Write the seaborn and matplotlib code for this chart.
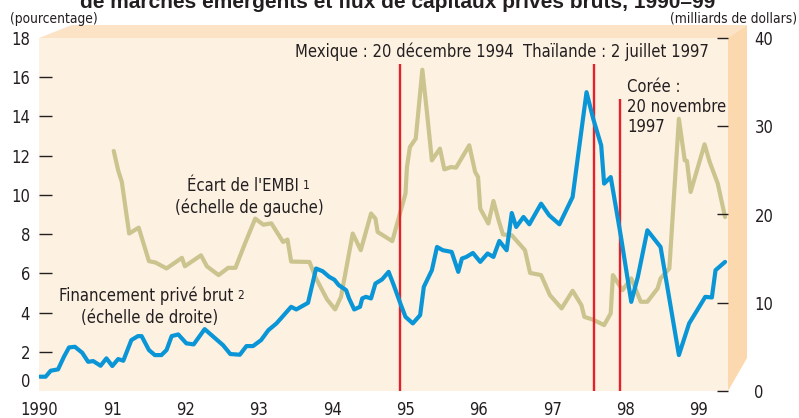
import matplotlib
matplotlib.use("Agg")
import matplotlib.pyplot as plt
import matplotlib.font_manager as fm
import seaborn as sns
import pandas as pd
from matplotlib.patches import Polygon

# ---------------- data ----------------
flow_dates = [1990.01, 1990.09, 1990.16, 1990.26, 1990.34, 1990.41, 1990.49, 1990.59, 1990.67, 1990.74,
              1990.84, 1990.92, 1991.00, 1991.08, 1991.15, 1991.26, 1991.35, 1991.40, 1991.50, 1991.58,
              1991.67, 1991.74, 1991.81, 1991.90, 1992.01, 1992.11, 1992.26, 1992.38, 1992.51, 1992.61,
              1992.74, 1992.83, 1992.92, 1993.03, 1993.13, 1993.24, 1993.30, 1993.44, 1993.51, 1993.67,
              1993.78, 1993.87, 1993.96, 1994.03, 1994.09, 1994.19, 1994.23, 1994.30, 1994.38, 1994.41,
              1994.46, 1994.53, 1994.59, 1994.68, 1994.77, 1994.84, 1994.93, 1995.00, 1995.10, 1995.20,
              1995.25, 1995.36, 1995.43, 1995.51, 1995.63, 1995.72, 1995.77, 1995.83, 1995.92, 1996.02,
              1996.12, 1996.20, 1996.28, 1996.38, 1996.45, 1996.51, 1996.61, 1996.69, 1996.85, 1996.96,
              1997.10, 1997.28, 1997.37, 1997.47, 1997.56, 1997.67, 1997.71, 1997.80, 1997.94, 1998.08,
              1998.17, 1998.30, 1998.48, 1998.73, 1998.87, 1998.98, 1999.09, 1999.18, 1999.23, 1999.36]
flow_values = [1.62, 1.62, 2.30, 2.45, 3.88, 4.94, 5.01, 4.33, 3.31, 3.39,
               2.86, 3.70, 2.83, 3.62, 3.43, 5.77, 6.22, 6.22, 4.64, 4.07,
               4.07, 4.64, 6.22, 6.41, 5.40, 5.28, 7.01, 6.14, 5.20, 4.19,
               4.11, 5.09, 5.09, 5.77, 6.90, 7.66, 8.22, 9.54, 9.24, 9.99,
               13.88, 13.57, 12.93, 12.61, 11.99, 11.43, 10.49, 9.24, 9.54, 10.49,
               10.67, 10.49, 12.18, 12.64, 13.50, 11.99, 9.92, 8.40, 7.66, 8.60,
               11.80, 13.69, 16.32, 15.95, 15.76, 13.50, 15.01, 15.19, 15.64, 14.63,
               15.58, 15.19, 17.00, 15.95, 20.17, 18.59, 19.72, 18.89, 21.23, 19.91,
               18.89, 21.98, 27.64, 33.86, 30.88, 27.83, 23.50, 24.24, 17.45, 10.10,
               12.93, 18.21, 16.32, 4.07, 7.66, 9.16, 10.67, 10.60, 13.69, 14.63]

embi_dates = [1991.02, 1991.08, 1991.13, 1991.23, 1991.36, 1991.50, 1991.59, 1991.74, 1991.95, 1991.99,
              1992.21, 1992.29, 1992.45, 1992.58, 1992.68, 1992.81, 1992.95, 1993.06, 1993.17, 1993.33,
              1993.39, 1993.44, 1993.69, 1993.78, 1993.93, 1994.04, 1994.12, 1994.28, 1994.39, 1994.53,
              1994.59, 1994.62, 1994.82, 1995.00, 1995.02, 1995.06, 1995.14, 1995.23, 1995.29, 1995.36,
              1995.47, 1995.53, 1995.62, 1995.69, 1995.87, 1995.95, 1995.99, 1996.02, 1996.13, 1996.20,
              1996.27, 1996.33, 1996.45, 1996.63, 1996.70, 1996.85, 1996.97, 1997.13, 1997.28, 1997.40,
              1997.44, 1997.55, 1997.71, 1997.80, 1997.83, 1997.96, 1998.08, 1998.21, 1998.30, 1998.44,
              1998.48, 1998.60, 1998.73, 1998.81, 1998.84, 1998.89, 1999.08, 1999.15, 1999.26, 1999.36]
embi_values = [12.24, 11.25, 10.66, 8.03, 8.33, 6.62, 6.55, 6.25, 6.79, 6.36,
               6.92, 6.36, 5.91, 6.28, 6.28, 7.52, 8.79, 8.48, 8.55, 7.60,
               7.72, 6.60, 6.58, 5.74, 4.67, 4.16, 4.80, 8.03, 7.18, 9.05,
               8.79, 8.11, 7.64, 10.07, 11.42, 12.44, 12.87, 16.38, 14.31, 11.76,
               12.36, 11.30, 11.42, 11.39, 12.53, 11.17, 10.91, 9.30, 8.54, 9.69,
               8.71, 7.98, 7.94, 7.18, 6.02, 5.91, 4.89, 4.21, 5.11, 4.38,
               3.78, 3.65, 3.36, 3.96, 5.91, 5.14, 5.74, 4.55, 4.55, 5.23,
               5.74, 6.25, 13.88, 11.76, 11.73, 10.15, 12.58, 11.68, 10.58, 8.87]

event_labels = ["Mexique : 20 décembre 1994", "Thaïlande : 2 juillet 1997", "Corée :\n20 novembre\n1997"]
event_dates = [1994.93, 1997.57, 1997.92]
event_tops = [16.67, 16.67, 14.87]

year_ticks = list(range(1990, 2000))
year_labels = ["1990", "91", "92", "93", "94", "95", "96", "97", "98", "99"]
left_ticks = [0, 2, 4, 6, 8, 10, 12, 14, 16, 18]
right_ticks = [0, 10, 20, 30, 40]

title_text = "de marchés émergents et flux de capitaux privés bruts, 1990–99"

# ---------------- style ----------------
sns.set_style("white")

# choose a condensed face if one is installed
names = {f.name for f in fm.fontManager.ttflist}
cond_dejavu = any(f.name == "DejaVu Sans" and "Condensed" in f.fname for f in fm.fontManager.ttflist)
if "Liberation Sans Narrow" in names:
    FAM = ["Liberation Sans Narrow", "DejaVu Sans"]
    STRETCH = "normal"
    SCALE = 0.98
elif cond_dejavu:
    FAM = ["DejaVu Sans", "Liberation Sans"]
    STRETCH = "condensed"
    SCALE = 0.85
else:
    FAM = ["Liberation Sans", "DejaVu Sans"]
    STRETCH = "normal"
    SCALE = 0.84
plt.rcParams["font.family"] = FAM
plt.rcParams["font.stretch"] = STRETCH

FS = 14 * SCALE
FS_UNIT = 11.6 * SCALE
FS_SUP = 10 * SCALE

TXT = "#231F20"
BLUE = "#0A96D6"
TAN = "#CBC48E"
RED = "#E4202A"
FRONT = "#FDF1E2"
TOPBAND = "#FDE3C6"
SIDEBAND = "#FCD8AE"

W, H = 799, 418
fig = plt.figure(figsize=(W / 100, H / 100), dpi=100)
fig.patch.set_facecolor("white")


def fx(x):
    return x / W


def fy(y):
    return 1 - y / H


L, R, T, B = 39, 728, 38, 391
ax = fig.add_axes([fx(L), fy(B), (R - L) / W, (B - T) / H])
ax.set_facecolor(FRONT)

# 3-D box bands
top_band = Polygon([(fx(L), fy(T)), (fx(72), fy(25)), (fx(747), fy(25)), (fx(R), fy(T))],
                   closed=True, transform=fig.transFigure, facecolor=TOPBAND, edgecolor="none", zorder=-1)
side_band = Polygon([(fx(R), fy(T)), (fx(747), fy(25)), (fx(747), fy(358)), (fx(R), fy(B))],
                    closed=True, transform=fig.transFigure, facecolor=SIDEBAND, edgecolor="none", zorder=-1)
fig.patches.extend([top_band, side_band])

embi_df = pd.DataFrame({"date": embi_dates, "val": embi_values})
flow_df = pd.DataFrame({"date": flow_dates, "val": flow_values})

sns.lineplot(data=embi_df, x="date", y="val", ax=ax, color=TAN, linewidth=3.0,
             sort=False, estimator=None, zorder=2)
ax.vlines(event_dates, 0, event_tops, color=RED, linewidth=1.7, zorder=3)

ax.set_xlim(1990.0, 1999.40)
ax.set_ylim(0, 18)

ax2 = ax.twinx()
sns.lineplot(data=flow_df, x="date", y="val", ax=ax2, color=BLUE, linewidth=3.0,
             sort=False, estimator=None, zorder=4)
ax2.set_ylim(0, 40)
ax2.set_xlim(1990.0, 1999.40)

for a in (ax, ax2):
    a.set_xlabel("")
    a.set_ylabel("")
    for s in a.spines.values():
        s.set_visible(False)

ax.set_xticks(year_ticks)
ax.set_xticklabels(year_labels)
ax.set_yticks(left_ticks)
ax.tick_params(axis="x", direction="in", length=7, width=1.0, color=TXT, pad=7,
               labelsize=FS, labelcolor=TXT)
ax.tick_params(axis="y", direction="in", length=9.5, width=1.0, color=TXT, pad=6.5,
               labelsize=FS, labelcolor=TXT, left=True)
ax.xaxis.get_major_ticks()[0].tick1line.set_visible(False)
yt = ax.yaxis.get_major_ticks()
yt[0].tick1line.set_visible(False)
yt[-1].tick1line.set_visible(False)
yt[0].label1.set_verticalalignment("bottom")

ax2.set_yticks(right_ticks)
ax2.tick_params(axis="y", direction="in", length=8, width=1.0, color=TXT, pad=19,
                labelsize=FS, labelcolor=TXT, right=True)

# event annotations
ax.text(1994.99, 17.3, event_labels[0], ha="center", va="center", fontsize=FS, color=TXT)
ax.text(1997.87, 17.3, event_labels[1], ha="center", va="center", fontsize=FS, color=TXT)
ax.text(1998.02, 15.95, event_labels[2], ha="left", va="top", fontsize=FS, color=TXT,
        linespacing=1.12)

# series labels with superscript notes attached to the text's right edge
t1 = fig.text(fx(243), fy(186), "Écart de l'EMBI", ha="center", va="center", fontsize=FS, color=TXT)
fig.text(fx(249), fy(208), "(échelle de gauche)", ha="center", va="center", fontsize=FS, color=TXT)
t2 = fig.text(fx(146), fy(296), "Financement privé brut", ha="center", va="center", fontsize=FS, color=TXT)
fig.text(fx(150), fy(318), "(échelle de droite)", ha="center", va="center", fontsize=FS, color=TXT)
for t, note in ((t1, "1"), (t2, "2")):
    fig.texts.append(matplotlib.text.Annotation(
        note, xy=(1, 0.55), xycoords=t, xytext=(3, 0), textcoords="offset points",
        ha="left", va="center", fontsize=FS_SUP, color=TXT))
    fig.texts[-1].set_figure(fig)

# unit labels
fig.text(fx(10), fy(19), "(pourcentage)", ha="left", va="center", fontsize=FS_UNIT, color=TXT)
fig.text(fx(797), fy(18), "(milliards de dollars)", ha="right", va="center", fontsize=FS_UNIT, color=TXT)

# cut-off title
fig.text(fx(398), fy(8), title_text, ha="center", va="baseline", fontsize=15,
         fontweight="bold", color=TXT, family=["Liberation Sans", "DejaVu Sans"], stretch="normal")

fig.savefig("out.png", dpi=100)
